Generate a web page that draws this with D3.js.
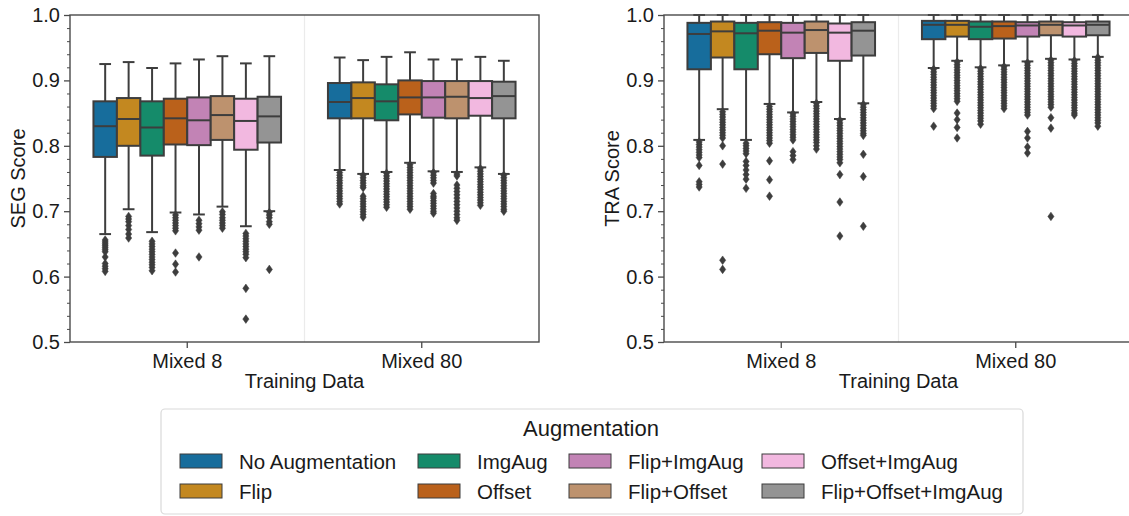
<!DOCTYPE html>
<html>
<head>
<meta charset="utf-8">
<script src="https://cdn.jsdelivr.net/npm/d3@7"></script>
<style>
  html, body { margin: 0; padding: 0; background: #fff; }
  svg { display: block; font-family: "Liberation Sans", Arial, sans-serif; }
</style>
</head>
<body>
<svg id="chart" width="1129" height="516"></svg>
<script>
// Categories and legend entries
const groups = ["Mixed 8", "Mixed 80"];
const augmentations = ["No Augmentation", "Flip", "ImgAug", "Offset",
  "Flip+ImgAug", "Flip+Offset", "Offset+ImgAug", "Flip+Offset+ImgAug"];
const palette = ["#0173B2", "#DE8F05", "#029E73", "#D55E00",
  "#CC78BC", "#CA9161", "#FBAFE4", "#949494"];
const yTicks = [0.5, 0.6, 0.7, 0.8, 0.9, 1.0];

// Box statistics per augmentation: [lower whisker, Q1, median, Q3, upper whisker]
const segMixed8 = [
  [0.665, 0.783, 0.830, 0.868, 0.925],
  [0.703, 0.800, 0.841, 0.873, 0.928],
  [0.668, 0.785, 0.828, 0.868, 0.919],
  [0.698, 0.802, 0.842, 0.872, 0.926],
  [0.695, 0.801, 0.839, 0.874, 0.932],
  [0.707, 0.809, 0.847, 0.876, 0.937],
  [0.677, 0.794, 0.838, 0.872, 0.926],
  [0.700, 0.805, 0.845, 0.875, 0.937]
];
const segMixed80 = [
  [0.763, 0.842, 0.867, 0.896, 0.935],
  [0.757, 0.842, 0.873, 0.897, 0.931],
  [0.760, 0.839, 0.868, 0.894, 0.936],
  [0.774, 0.848, 0.874, 0.900, 0.943],
  [0.761, 0.843, 0.874, 0.899, 0.932],
  [0.760, 0.842, 0.875, 0.899, 0.932],
  [0.767, 0.846, 0.873, 0.899, 0.936],
  [0.757, 0.842, 0.876, 0.898, 0.930]
];
const traMixed8 = [
  [0.809, 0.917, 0.971, 0.988, 1.0],
  [0.856, 0.935, 0.975, 0.990, 1.0],
  [0.809, 0.917, 0.972, 0.988, 1.0],
  [0.864, 0.940, 0.976, 0.989, 1.0],
  [0.851, 0.934, 0.973, 0.988, 1.0],
  [0.867, 0.942, 0.977, 0.990, 1.0],
  [0.841, 0.930, 0.973, 0.987, 1.0],
  [0.865, 0.938, 0.976, 0.989, 1.0]
];
const traMixed80 = [
  [0.919, 0.963, 0.985, 0.991, 1.0],
  [0.930, 0.967, 0.985, 0.991, 1.0],
  [0.920, 0.963, 0.982, 0.990, 1.0],
  [0.923, 0.964, 0.983, 0.990, 1.0],
  [0.929, 0.967, 0.984, 0.989, 1.0],
  [0.933, 0.969, 0.985, 0.990, 1.0],
  [0.932, 0.967, 0.984, 0.989, 1.0],
  [0.936, 0.969, 0.985, 0.990, 1.0]
];

// Outlying scores per augmentation
const segMixed8Out = [
  [0.656, 0.653, 0.650, 0.647, 0.644, 0.641, 0.638, 0.630, 0.620, 0.616, 0.612, 0.608],
  [0.692, 0.688, 0.684, 0.678, 0.672, 0.665, 0.659],
  [0.654, 0.650, 0.646, 0.642, 0.638, 0.634, 0.630, 0.626, 0.622, 0.618, 0.614, 0.609],
  [0.694, 0.690, 0.686, 0.682, 0.678, 0.674, 0.670, 0.636, 0.619, 0.607],
  [0.686, 0.681, 0.676, 0.671, 0.630],
  [0.699, 0.695, 0.690, 0.686, 0.682, 0.678, 0.674],
  [0.666, 0.662, 0.658, 0.654, 0.650, 0.646, 0.642, 0.638, 0.634, 0.629, 0.582, 0.535],
  [0.698, 0.694, 0.690, 0.684, 0.680, 0.611]
];
const segMixed80Out = [
  [0.759, 0.755, 0.751, 0.747, 0.743, 0.739, 0.735, 0.731, 0.727, 0.723, 0.719, 0.715, 0.711],
  [0.755, 0.751, 0.747, 0.743, 0.739, 0.736, 0.723, 0.719, 0.715, 0.711, 0.707, 0.703, 0.699, 0.695, 0.691],
  [0.758, 0.754, 0.750, 0.746, 0.742, 0.738, 0.734, 0.730, 0.726, 0.722, 0.718, 0.714, 0.710, 0.706],
  [0.771, 0.767, 0.763, 0.759, 0.755, 0.751, 0.747, 0.743, 0.739, 0.735, 0.731, 0.727, 0.723, 0.719, 0.715, 0.711, 0.707, 0.703],
  [0.759, 0.755, 0.751, 0.747, 0.743, 0.727, 0.723, 0.720, 0.716, 0.712, 0.708, 0.704, 0.700, 0.697],
  [0.757, 0.754, 0.740, 0.735, 0.730, 0.725, 0.720, 0.715, 0.710, 0.705, 0.700, 0.695, 0.690, 0.686],
  [0.765, 0.761, 0.757, 0.753, 0.749, 0.745, 0.741, 0.737, 0.733, 0.729, 0.725, 0.721, 0.717, 0.713, 0.709],
  [0.755, 0.751, 0.747, 0.743, 0.739, 0.735, 0.731, 0.727, 0.723, 0.719, 0.715, 0.711, 0.707, 0.703, 0.700]
];
const traMixed8Out = [
  [0.806, 0.802, 0.798, 0.794, 0.790, 0.786, 0.782, 0.770, 0.745, 0.741, 0.737],
  [0.852, 0.848, 0.844, 0.840, 0.836, 0.832, 0.828, 0.824, 0.820, 0.816, 0.812, 0.800, 0.772, 0.625, 0.611],
  [0.804, 0.800, 0.796, 0.792, 0.788, 0.776, 0.770, 0.763, 0.756, 0.749, 0.735],
  [0.860, 0.856, 0.852, 0.848, 0.844, 0.840, 0.836, 0.832, 0.828, 0.824, 0.820, 0.816, 0.812, 0.808, 0.804, 0.777, 0.748, 0.723],
  [0.849, 0.845, 0.841, 0.837, 0.833, 0.829, 0.825, 0.821, 0.817, 0.813, 0.809, 0.791, 0.785, 0.779],
  [0.865, 0.861, 0.857, 0.853, 0.849, 0.845, 0.841, 0.837, 0.833, 0.829, 0.825, 0.821, 0.817, 0.813, 0.809, 0.805, 0.800, 0.795],
  [0.839, 0.835, 0.831, 0.827, 0.823, 0.819, 0.815, 0.811, 0.807, 0.803, 0.799, 0.795, 0.791, 0.787, 0.783, 0.779, 0.774, 0.756, 0.714, 0.662],
  [0.863, 0.859, 0.855, 0.851, 0.847, 0.843, 0.839, 0.835, 0.831, 0.827, 0.823, 0.819, 0.816, 0.787, 0.753, 0.677]
];
const traMixed80Out = [
  [0.917, 0.913, 0.909, 0.905, 0.901, 0.897, 0.893, 0.889, 0.885, 0.881, 0.877, 0.873, 0.869, 0.865, 0.861, 0.857, 0.830],
  [0.928, 0.924, 0.920, 0.916, 0.912, 0.908, 0.904, 0.900, 0.896, 0.892, 0.888, 0.884, 0.880, 0.876, 0.872, 0.868, 0.850, 0.840, 0.828, 0.812],
  [0.918, 0.914, 0.910, 0.906, 0.902, 0.898, 0.894, 0.890, 0.886, 0.882, 0.878, 0.874, 0.870, 0.866, 0.862, 0.858, 0.854, 0.850, 0.846, 0.842, 0.838, 0.833],
  [0.921, 0.917, 0.913, 0.909, 0.905, 0.901, 0.897, 0.893, 0.889, 0.885, 0.881, 0.877, 0.873, 0.869, 0.865, 0.861, 0.857],
  [0.927, 0.923, 0.919, 0.915, 0.911, 0.907, 0.903, 0.899, 0.895, 0.891, 0.887, 0.883, 0.879, 0.875, 0.871, 0.867, 0.863, 0.859, 0.855, 0.851, 0.847, 0.822, 0.812, 0.798, 0.789],
  [0.931, 0.927, 0.923, 0.919, 0.915, 0.911, 0.907, 0.903, 0.899, 0.895, 0.891, 0.887, 0.883, 0.879, 0.875, 0.871, 0.867, 0.863, 0.859, 0.843, 0.827, 0.692],
  [0.930, 0.926, 0.922, 0.918, 0.914, 0.910, 0.906, 0.902, 0.898, 0.894, 0.890, 0.886, 0.882, 0.878, 0.874, 0.870, 0.866, 0.862, 0.858, 0.854, 0.850, 0.847],
  [0.935, 0.931, 0.927, 0.923, 0.919, 0.915, 0.911, 0.907, 0.903, 0.899, 0.895, 0.891, 0.887, 0.883, 0.879, 0.875, 0.871, 0.867, 0.863, 0.859, 0.855, 0.851, 0.847, 0.843, 0.839, 0.835, 0.830]
];

// ---- drawing ----
const svg = d3.select("#chart");
const FONT = 20;
const ink = "#3d3d3d";
const spineColor = "#4a4a4a";

// box fills: palette with saturation reduced to 75%
const fills = palette.map(c => { const h = d3.hsl(c); h.s *= 0.75; return h.formatHex(); });
const color = d3.scaleOrdinal().domain(augmentations).range(fills);

const plotTop = 15, plotBottom = 342;
const y = d3.scaleLinear().domain([0.5, 1.0]).range([plotBottom, plotTop]);

const panels = [
  { x0: 70, x1: 539, label: "SEG Score", stats: [segMixed8, segMixed80], outliers: [segMixed8Out, segMixed80Out] },
  { x0: 664, x1: 1133, label: "TRA Score", stats: [traMixed8, traMixed80], outliers: [traMixed8Out, traMixed80Out] }
];

const diamond = "M0,-4.3L3.1,0L0,4.3L-3.1,0Z";

panels.forEach(p => {
  const g = svg.append("g");
  const x = d3.scaleBand().domain(groups).range([p.x0, p.x1]).padding(0);
  const bw = x.bandwidth();
  const hue = d3.scaleBand().domain(augmentations).range([-0.4 * bw, 0.4 * bw]).padding(0);
  const w = hue.bandwidth();

  // faint divider between training-data groups
  g.append("line")
    .attr("x1", x(groups[1])).attr("x2", x(groups[1]))
    .attr("y1", plotTop).attr("y2", plotBottom)
    .attr("stroke", "#ebebeb").attr("stroke-width", 1.2);

  groups.forEach((grp, gi) => {
    const cx = x(grp) + bw / 2;
    augmentations.forEach((aug, ai) => {
      const [lo, q1, med, q3, hi] = p.stats[gi][ai];
      const bx = cx + hue(aug);
      const mx = bx + w / 2;
      const bg = g.append("g");
      // whiskers
      bg.append("line").attr("x1", mx).attr("x2", mx).attr("y1", y(q3)).attr("y2", y(hi))
        .attr("stroke", ink).attr("stroke-width", 2);
      bg.append("line").attr("x1", mx).attr("x2", mx).attr("y1", y(q1)).attr("y2", y(lo))
        .attr("stroke", ink).attr("stroke-width", 2);
      // caps
      [lo, hi].forEach(v => bg.append("line")
        .attr("x1", mx - w / 4).attr("x2", mx + w / 4).attr("y1", y(v)).attr("y2", y(v))
        .attr("stroke", ink).attr("stroke-width", 2));
      // box
      bg.append("rect").attr("x", bx).attr("width", w)
        .attr("y", y(q3)).attr("height", y(q1) - y(q3))
        .attr("fill", color(aug)).attr("stroke", ink).attr("stroke-width", 2);
      // median
      bg.append("line").attr("x1", bx).attr("x2", bx + w).attr("y1", y(med)).attr("y2", y(med))
        .attr("stroke", ink).attr("stroke-width", 2);
      // outliers
      bg.selectAll("path.flier").data(p.outliers[gi][ai]).enter().append("path")
        .attr("class", "flier")
        .attr("d", diamond)
        .attr("transform", v => `translate(${mx},${y(v)})`)
        .attr("fill", ink).attr("stroke", ink).attr("stroke-width", 0.5);
    });
  });

  // frame
  g.append("rect").attr("x", p.x0).attr("y", plotTop)
    .attr("width", p.x1 - p.x0).attr("height", plotBottom - plotTop)
    .attr("fill", "none").attr("stroke", spineColor).attr("stroke-width", 1.4);

  // y axis: minor ticks
  const minor = y.ticks(25).filter(v => !yTicks.some(t => Math.abs(t - v) < 1e-9));
  const ym = g.append("g").attr("transform", `translate(${p.x0},0)`)
    .call(d3.axisLeft(y).tickValues(minor).tickSize(3).tickSizeOuter(0).tickFormat(""));
  ym.select(".domain").remove();
  ym.selectAll("line").attr("stroke", spineColor).attr("stroke-width", 1);

  // y axis: major ticks
  const ya = g.append("g").attr("transform", `translate(${p.x0},0)`)
    .call(d3.axisLeft(y).tickValues(yTicks).tickSize(6).tickPadding(4).tickFormat(d3.format(".1f")));
  ya.select(".domain").remove();
  ya.selectAll("line").attr("stroke", spineColor).attr("stroke-width", 1.3);
  ya.selectAll("text").attr("font-size", FONT).attr("fill", "#1a1a1a")
    .attr("font-family", "Liberation Sans, Arial, sans-serif");

  // x axis
  const xa = g.append("g").attr("transform", `translate(0,${plotBottom})`)
    .call(d3.axisBottom(x).tickSize(6).tickPadding(6).tickSizeOuter(0));
  xa.select(".domain").remove();
  xa.selectAll("line").attr("stroke", spineColor).attr("stroke-width", 1.3);
  xa.selectAll("text").attr("font-size", FONT).attr("fill", "#1a1a1a")
    .attr("font-family", "Liberation Sans, Arial, sans-serif");

  // axis titles
  g.append("text").attr("x", (p.x0 + p.x1) / 2).attr("y", 388)
    .attr("text-anchor", "middle").attr("font-size", FONT).attr("fill", "#1a1a1a")
    .text("Training Data");
  g.append("text")
    .attr("transform", `translate(${p.x0 - 45},${(plotTop + plotBottom) / 2}) rotate(-90)`)
    .attr("text-anchor", "middle").attr("font-size", FONT).attr("fill", "#1a1a1a")
    .text(p.label);
});

// ---- legend ----
const lg = svg.append("g");
lg.append("rect").attr("x", 161).attr("y", 409).attr("width", 862).attr("height", 105)
  .attr("rx", 4).attr("fill", "#fff").attr("stroke", "#d9d9d9").attr("stroke-width", 1.2);
lg.append("text").attr("x", 591).attr("y", 436).attr("text-anchor", "middle")
  .attr("font-size", 22).attr("fill", "#1a1a1a").text("Augmentation");

const colX = [180, 418, 569, 762];
const rowY = [461, 491];
augmentations.forEach((aug, i) => {
  const col = Math.floor(i / 2), row = i % 2;
  const px = colX[col], cy = rowY[row];
  lg.append("rect").attr("x", px).attr("y", cy - 7).attr("width", 42).attr("height", 14)
    .attr("fill", color(aug)).attr("stroke", ink).attr("stroke-width", 1);
  lg.append("text").attr("x", px + 59).attr("y", cy + 7.5)
    .attr("font-size", 20.5).attr("fill", "#1a1a1a").text(aug);
});
</script>
</body>
</html>
